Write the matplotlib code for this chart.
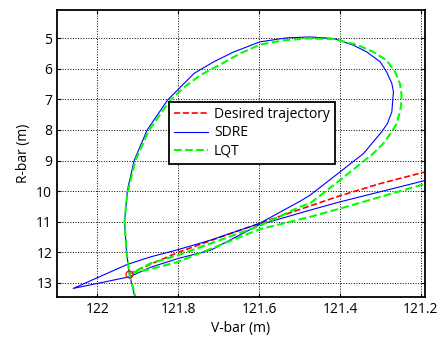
import matplotlib
matplotlib.use('Agg')
import matplotlib.pyplot as plt

matplotlib.rcParams['font.family'] = ['Open Sans', 'DejaVu Sans']

# desired trajectory (V-bar, R-bar)
des_v = [121.921, 121.869, 121.8, 121.7, 121.6, 121.5, 121.4, 121.3, 121.186, 121.15]
des_r = [12.71, 12.39, 12.0, 11.52, 11.06, 10.6, 10.15, 9.75, 9.36, 9.24]

# SDRE
sdre_v = [121.905, 121.921, 121.928, 121.933, 121.928, 121.926, 121.909, 121.877, 121.827,
          121.794, 121.761, 121.712, 121.663, 121.598, 121.532, 121.474, 121.416, 121.367,
          121.334, 121.301, 121.285, 121.272, 121.268, 121.270, 121.272, 121.283, 121.297,
          121.318, 121.342, 121.4, 121.474, 121.499, 121.6, 121.72,
          121.8, 121.869, 121.927, 122.06, 121.921, 121.869, 121.8, 121.72, 121.6,
          121.474, 121.4, 121.186, 121.15]
sdre_r = [13.6, 12.71, 12.0, 11.0, 10.29, 9.97, 8.99, 8.0, 7.03,
          6.59, 6.15, 5.77, 5.45, 5.12, 4.99, 4.96, 5.01, 5.23,
          5.45, 5.77, 6.10, 6.48, 6.75, 7.08, 7.41, 7.79, 8.06,
          8.39, 8.77, 9.37, 10.13, 10.33, 11.06, 11.6,
          11.91, 12.15, 12.40, 13.18, 12.80, 12.49, 12.2, 11.93, 11.1,
          10.62, 10.35, 9.64, 9.52]

# LQT
lqt_v = [121.903, 121.921, 121.928, 121.933, 121.928, 121.924, 121.906, 121.872, 121.82,
         121.787, 121.746, 121.696, 121.647, 121.598, 121.54, 121.482, 121.416, 121.359,
         121.318, 121.285, 121.264, 121.252, 121.248, 121.249, 121.252, 121.26, 121.272,
         121.293, 121.318, 121.4, 121.474, 121.499, 121.6, 121.8, 121.869,
         121.915, 121.869, 121.8, 121.6, 121.474, 121.4, 121.186, 121.15]
lqt_r = [13.6, 12.71, 12.0, 11.0, 10.29, 9.97, 8.99, 8.0, 7.03,
         6.62, 6.21, 5.86, 5.5, 5.21, 5.07, 5.01, 5.03, 5.21,
         5.45, 5.72, 6.10, 6.48, 6.86, 7.19, 7.41, 7.79, 8.06,
         8.44, 8.77, 9.64, 10.40, 10.51, 11.14, 12.09, 12.36,
         12.68, 12.55, 12.31, 11.25, 10.84, 10.57, 9.75, 9.62]

x_ticks = [122, 121.8, 121.6, 121.4, 121.2]
x_ticklabels = ['122', '121.8', '121.6', '121.4', '121.2']
y_ticks = [5, 6, 7, 8, 9, 10, 11, 12, 13]

fig = plt.figure(figsize=(4.42, 3.40), dpi=100)
ax = fig.add_axes([0.129, 0.1265, 0.8325, 0.844])

ax.plot(des_v, des_r, '--', color='red', lw=1.2, label='Desired trajectory')
ax.plot(sdre_v, sdre_r, '-', color='blue', lw=0.8, label='SDRE')
ax.plot(lqt_v, lqt_r, '--', color='#00ff00', lw=1.5, label='LQT')
ax.plot(des_v[0], des_r[0], 'o', mfc='none', mec='red', ms=5, mew=0.9)

ax.set_xlim(122.1, 121.19)
ax.set_ylim(13.46, 4.08)
ax.set_xticks(x_ticks)
ax.set_xticklabels(x_ticklabels)
ax.set_yticks(y_ticks)
ax.tick_params(direction='in', top=True, right=True, labelsize=10, length=3)
ax.grid(True, color='k', linestyle=':', lw=0.7)
for s in ax.spines.values():
    s.set_linewidth(1.3)

ax.set_xlabel('V-bar (m)', fontsize=10, labelpad=3)
ax.set_ylabel('R-bar (m)', fontsize=10, labelpad=4)

leg = ax.legend(loc='upper left', bbox_to_anchor=(0.304, 0.679), borderaxespad=0,
                fontsize=10, fancybox=False, framealpha=1, edgecolor='k',
                handlelength=2.5, handletextpad=0.4, labelspacing=0.25,
                borderpad=0.35)
leg.get_frame().set_linewidth(1.3)

plt.savefig('out.png', dpi=100)
